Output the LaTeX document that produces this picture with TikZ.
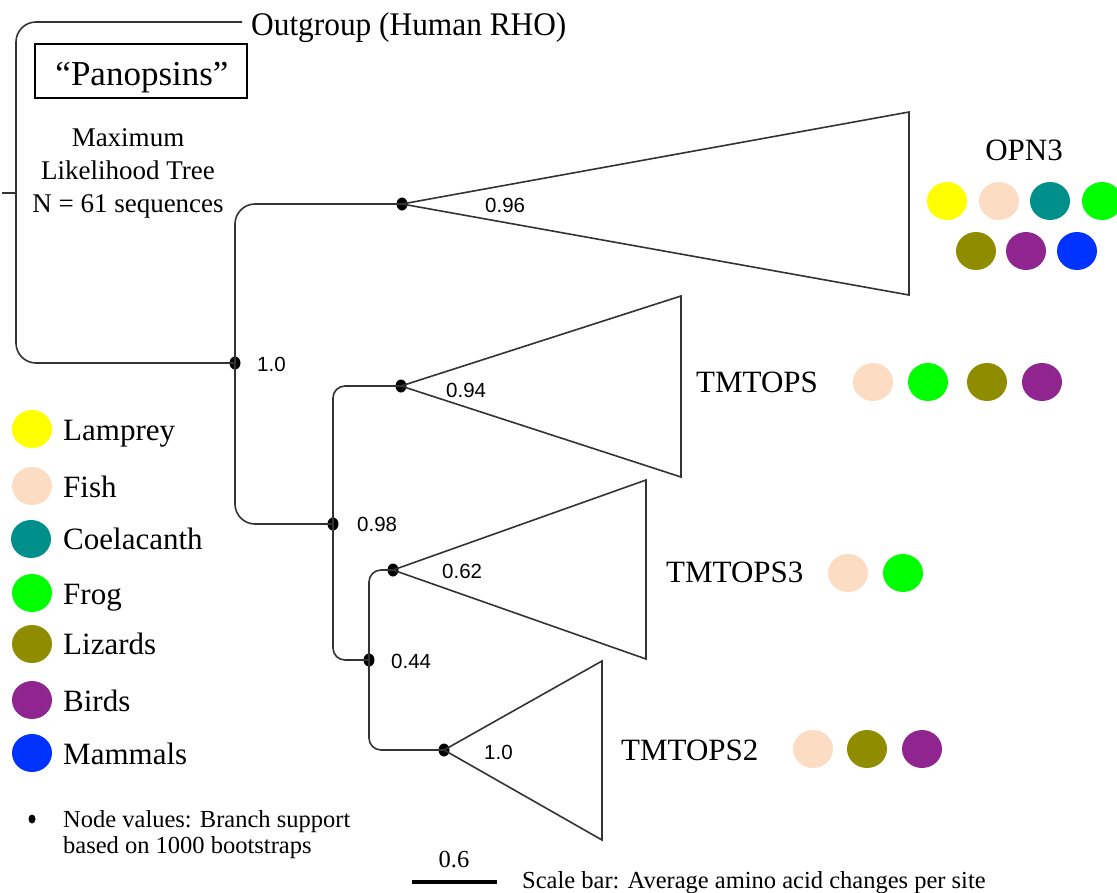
\documentclass[tikz,border=0pt]{standalone}
\usepackage{fontspec}
\usepackage{graphicx}
\setmainfont{Liberation Serif}
\newfontfamily\valfont{Liberation Sans}
\usetikzlibrary{shapes.geometric}

\definecolor{clamprey}{HTML}{FFFF00}
\definecolor{cfish}{HTML}{FCDDC3}
\definecolor{ccoel}{HTML}{008F8B}
\definecolor{cfrog}{HTML}{00FF00}
\definecolor{clizard}{HTML}{908C00}
\definecolor{cbird}{HTML}{912590}
\definecolor{cmammal}{HTML}{0033FF}
\definecolor{linegray}{HTML}{333333}

\tikzset{
  branch/.style={draw=linegray, line width=1.6pt},
  outer/.style={branch, rounded corners=20pt},
  inner/.style={branch, rounded corners=12pt},
  clade/.style={draw=linegray, line width=1.6pt, line join=miter},
  dot/.style={ellipse, fill=black, inner sep=0pt, minimum width=11pt, minimum height=13pt},
  val/.style={anchor=west, inner sep=0pt, font=\valfont\fontsize{20.5}{24}\selectfont},
  cladename/.style={anchor=base west, inner sep=0pt, font=\fontsize{31}{36}\selectfont},
  legtext/.style={anchor=base west, inner sep=0pt, font=\fontsize{31}{36}\selectfont},
  note/.style={anchor=base west, inner sep=0pt, font=\fontsize{24.5}{28}\selectfont},
  title/.style={anchor=base, inner sep=0pt, font=\fontsize{27}{32}\selectfont},
  taxon/.style={ellipse, inner sep=0pt, minimum width=40pt, minimum height=38pt, fill=#1},
}

\begin{document}
\begin{tikzpicture}[x=1pt, y=-1pt]
\useasboundingbox (0,0) rectangle (1117,892);

% ---- internal nodes of the tree
\node[dot] (A) at (235,363) {};
\node[dot] (B) at (402,204) {};
\node[dot] (C) at (333,524) {};
\node[dot] (D) at (401,386) {};
\node[dot] (E) at (369,660) {};
\node[dot] (F) at (393,570) {};
\node[dot] (G) at (444,750) {};

% ---- root and outgroup
\coordinate (root) at (16,193);
\coordinate (rootstub) at (2,193);
\coordinate (outtip) at (242,22);
\draw[branch] (rootstub) -- (root);
\draw[outer] (A.center) -| (root) |- (outtip);
\node[anchor=base west, inner sep=0pt, font=\fontsize{33}{38}\selectfont] (outlabel) at (251,35) {\scalebox{0.95}[1]{Outgroup (Human RHO)}};

% ---- branches
\draw[outer] (A.center) |- (B.center);
\draw[outer] (A.center) |- (C.center);
\draw[inner] (C.center) |- (D.center);
\draw[inner] (C.center) |- (E.center);
\draw[inner] (E.center) |- (F.center);
\draw[inner] (E.center) |- (G.center);

% ---- collapsed clades
\coordinate (opnT) at (909,112);
\coordinate (opnB) at (909,295);
\coordinate (tmT) at (681,296);
\coordinate (tmB) at (681,477);
\coordinate (tm3T) at (646,480);
\coordinate (tm3B) at (646,659);
\coordinate (tm2T) at (602,661);
\coordinate (tm2B) at (602,840);
\draw[clade] (B.center) -- (opnT) -- (opnB) -- cycle;
\draw[clade] (D.center) -- (tmT) -- (tmB) -- cycle;
\draw[clade] (F.center) -- (tm3T) -- (tm3B) -- cycle;
\draw[clade] (G.center) -- (tm2T) -- (tm2B) -- cycle;

% ---- support values
\node[val] (vA) at (257,364) {1.0};
\node[val] (vB) at (485,205) {0.96};
\node[val] (vD) at (446,390) {0.94};
\node[val] (vC) at (357,524) {0.98};
\node[val] (vF) at (442,571) {0.62};
\node[val] (vE) at (391,661) {0.44};
\node[val] (vG) at (484,752) {1.0};

% ---- clade names and their taxa
\node[anchor=base, inner sep=0pt, font=\fontsize{31}{36}\selectfont] (opn3) at (1024,160) {OPN3};
\node[taxon=clamprey] (o1) at (947,201) {};
\node[taxon=cfish]    (o2) at (999,201) {};
\node[taxon=ccoel]    (o3) at (1050,201) {};
\node[taxon=cfrog]    (o4) at (1102,201) {};
\node[taxon=clizard]  (o5) at (976,251) {};
\node[taxon=cbird]    (o6) at (1026,251) {};
\node[taxon=cmammal]  (o7) at (1077,251) {};

\node[cladename] (tmtops) at (696,392) {TMTOPS};
\node[taxon=cfish]   (t1) at (873,382) {};
\node[taxon=cfrog]   (t2) at (928,382) {};
\node[taxon=clizard] (t3) at (987,382) {};
\node[taxon=cbird]   (t4) at (1042,382) {};

\node[cladename] (tmtops3) at (666,582) {TMTOPS3};
\node[taxon=cfish] (s1) at (848,573) {};
\node[taxon=cfrog] (s2) at (903,573) {};

\node[cladename] (tmtops2) at (621,760) {TMTOPS2};
\node[taxon=cfish]   (r1) at (813,749) {};
\node[taxon=clizard] (r2) at (867,749) {};
\node[taxon=cbird]   (r3) at (922,749) {};

% ---- title block
\node[draw=black, line width=1.2pt, minimum width=212pt, minimum height=54pt, inner sep=0pt] (panbox) at (141,71) {};
\node[anchor=base, inner sep=0pt, font=\fontsize{35}{40}\selectfont] (pantext) at (142,85) {``Panopsins''};
\node[title] (ml1) at (128,146) {Maximum};
\node[title] (ml2) at (128,179) {Likelihood Tree};
\node[title] (ml3) at (128,212) {N = 61 sequences};

% ---- legend
\node[taxon=clamprey] (k1) at (32,429) {};
\node[legtext] (k1t) at (63,440) {Lamprey};
\node[taxon=cfish] (k2) at (32,486) {};
\node[legtext] (k2t) at (63,497) {Fish};
\node[taxon=ccoel] (k3) at (31,539) {};
\node[legtext] (k3t) at (63,549) {Coelacanth};
\node[taxon=cfrog] (k4) at (32,593) {};
\node[legtext] (k4t) at (63,604) {Frog};
\node[taxon=clizard] (k5) at (32,644) {};
\node[legtext] (k5t) at (63,654) {Lizards};
\node[taxon=cbird] (k6) at (32,700) {};
\node[legtext] (k6t) at (63,711) {Birds};
\node[taxon=cmammal] (k7) at (32,753) {};
\node[legtext] (k7t) at (63,764) {Mammals};

% ---- footnotes
\node[ellipse, fill=black, inner sep=0pt, minimum width=7pt, minimum height=9pt] (bullet) at (32,819) {};
\node[note] (n1) at (63,827) {Node values: Branch support};
\node[note] (n2) at (63,853) {based on 1000 bootstraps};

\coordinate (sbL) at (412,882);
\coordinate (sbR) at (497,882);
\draw[line width=4pt, black] (sbL) -- (sbR);
\node[anchor=base, inner sep=0pt, font=\fontsize{24.5}{28}\selectfont] (sbval) at (454,867) {0.6};
\node[note] (sbtext) at (522,888) {Scale bar: Average amino acid changes per site};
\end{tikzpicture}
\end{document}
